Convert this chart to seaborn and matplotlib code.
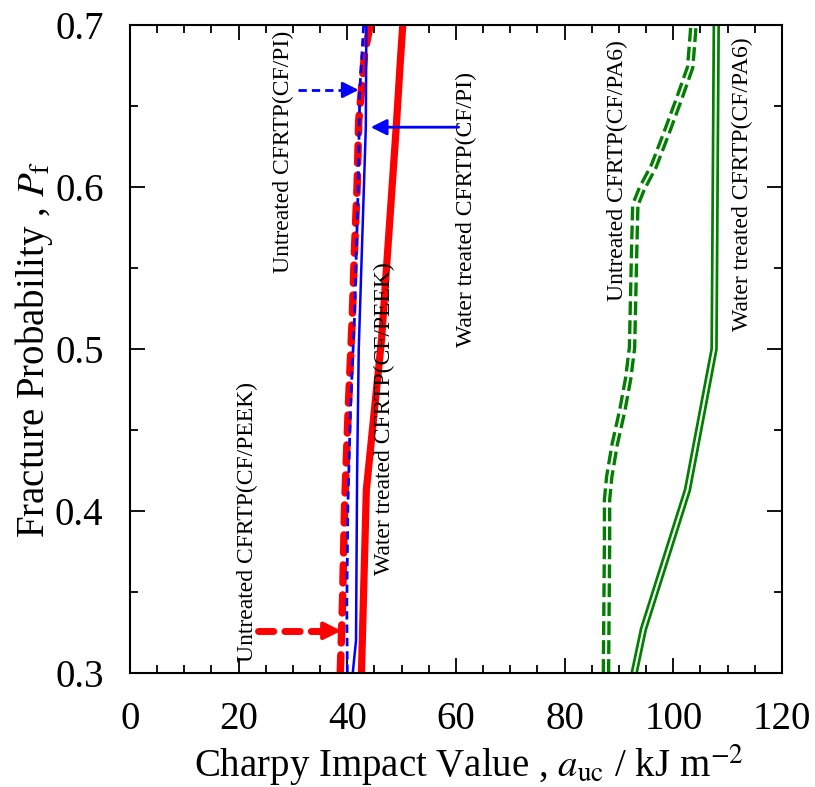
import matplotlib
matplotlib.use("Agg")
import numpy as np
import pandas as pd
import seaborn as sns
import matplotlib.pyplot as plt
from matplotlib.ticker import MultipleLocator

# ---- data ----
peek_untreated_p = [0.300, 0.341, 0.403, 0.465, 0.518, 0.559, 0.600, 0.641, 0.683, 0.700]
peek_untreated_a = [38.7, 39.1, 39.5, 40.2, 40.9, 41.3, 41.8, 42.1, 43.2, 44.2]

pi_untreated_p = [0.300, 0.341, 0.403, 0.465, 0.518, 0.600, 0.660, 0.700]
pi_untreated_a = [40.0, 39.9, 40.1, 40.6, 41.3, 42.0, 42.3, 43.0]

pi_water_p = [0.300, 0.320, 0.423, 0.500, 0.637, 0.700]
pi_water_a = [41.0, 41.6, 41.8, 42.1, 43.4, 43.5]

peek_water_p = [0.300, 0.413, 0.506, 0.637, 0.680, 0.700]
peek_water_a = [42.6, 43.5, 46.3, 49.0, 49.8, 50.2]

pa6_untreated_p = [0.300, 0.380, 0.407, 0.421, 0.441, 0.462, 0.482, 0.501, 0.562,
                   0.589, 0.599, 0.613, 0.634, 0.654, 0.674, 0.695, 0.700]
pa6_untreated_a = [87.6, 87.8, 87.8, 88.2, 89.2, 90.6, 91.7, 92.4, 92.8,
                   93.0, 94.2, 96.4, 98.8, 101.0, 103.1, 103.6, 103.7]

pa6_water_p = [0.300, 0.327, 0.413, 0.500, 0.700]
pa6_water_a = [92.8, 94.5, 102.6, 107.5, 107.9]

sns.set_theme(style="ticks")
plt.rcParams["font.family"] = ["Liberation Serif", "DejaVu Serif"]
plt.rcParams["mathtext.fontset"] = "stix"
plt.rcParams["text.color"] = "black"
plt.rcParams["axes.labelcolor"] = "black"
plt.rcParams["xtick.color"] = "black"
plt.rcParams["ytick.color"] = "black"

fig = plt.figure(figsize=(8.15, 7.87), dpi=100)
ax = fig.add_axes([0.1595, 0.145, 0.80, 0.823])

RED = "#ff0000"
BLUE = "#0000ff"
GREEN = "#007f00"


def draw(a, p, **kw):
    df = pd.DataFrame({"a": a, "p": p})
    sns.lineplot(data=df, x="a", y="p", sort=False, estimator=None, ax=ax, **kw)


# water treated PA6: double line (green with white core)
draw(pa6_water_a, pa6_water_p, color=GREEN, lw=5.4)
draw(pa6_water_a, pa6_water_p, color="white", lw=1.5)

# untreated PA6: double dashed line
draw(pa6_untreated_a, pa6_untreated_p, color=GREEN, lw=6.2,
     dashes=(1.6, 0.6), dash_capstyle="butt")
draw(pa6_untreated_a, pa6_untreated_p, color="white", lw=1.4)

# PEEK and PI
draw(peek_water_a, peek_water_p, color=RED, lw=5.2, solid_capstyle="round")
draw(peek_untreated_a, peek_untreated_p, color=RED, lw=5.4,
     dashes=(2.4, 1.6), dash_capstyle="round")
draw(pi_water_a, pi_water_p, color=BLUE, lw=1.8)
draw(pi_untreated_a, pi_untreated_p, color=BLUE, lw=2.0,
     dashes=(3.0, 1.8), dash_capstyle="butt")

# ---- annotations ----
TXT = dict(rotation=90, ha="center", va="center", fontsize=17, color="black")
ax.text(28.2, 0.622, "Untreated CFRTP(CF/PI)", **TXT)
ax.text(62.0, 0.586, "Water treated CFRTP(CF/PI)", **TXT)
ax.text(21.6, 0.393, "Untreated CFRTP(CF/PEEK)", **TXT)
ax.text(46.8, 0.457, "Water treated CFRTP(CF/PEEK)", **TXT)
ax.text(89.8, 0.610, "Untreated CFRTP(CF/PA6)", **TXT)
ax.text(112.8, 0.602, "Water treated CFRTP(CF/PA6)", **TXT)

# blue dashed arrow (untreated PI)
ax.plot([31.0, 40.0], [0.660, 0.660], color=BLUE, lw=2.0, dashes=(3.0, 1.8))
ax.annotate("", xy=(42.6, 0.660), xytext=(39.0, 0.660),
            arrowprops=dict(arrowstyle="-|>", color=BLUE, lw=2.0, mutation_scale=24))
# blue solid arrow (water treated PI)
ax.annotate("", xy=(43.8, 0.637), xytext=(61.0, 0.637),
            arrowprops=dict(arrowstyle="-|>", color=BLUE, lw=2.0, mutation_scale=24))
# red dashed arrow (untreated PEEK)
ax.plot([23.5, 35.5], [0.326, 0.326], color=RED, lw=5.0, dashes=(2.2, 1.6),
        dash_capstyle="round")
ax.annotate("", xy=(39.4, 0.326), xytext=(35.0, 0.326),
            arrowprops=dict(arrowstyle="-|>", color=RED, lw=3.0, mutation_scale=26))

# ---- axes ----
ax.set_xlim(0, 120)
ax.set_ylim(0.3, 0.7)
ax.xaxis.set_major_locator(MultipleLocator(20))
ax.xaxis.set_minor_locator(MultipleLocator(5))
ax.yaxis.set_major_locator(MultipleLocator(0.1))
ax.yaxis.set_minor_locator(MultipleLocator(0.05))
ax.tick_params(which="both", direction="in", top=True, right=True, width=1.3,
               labelsize=28)
ax.tick_params(axis="x", which="both", pad=20)
ax.tick_params(axis="y", which="both", pad=19)
ax.tick_params(which="major", length=11)
ax.tick_params(which="minor", length=6)
ax.set_xticklabels([f"{int(v)}" for v in ax.get_xticks()])
ax.set_yticklabels([f"{v:.1f}" for v in ax.get_yticks()])
for s in ax.spines.values():
    s.set_linewidth(1.5)
    s.set_color("black")

ax.set_xlabel(r"Charpy Impact Value , $a_{\rm uc}$ / kJ m$^{-2}$", fontsize=28, labelpad=3)
ax.xaxis.label.set_x(0.52)
ax.set_ylabel(r"Fracture Probability , $P_{\rm f}$", fontsize=28, labelpad=0)

fig.savefig("out.png", dpi=100)
